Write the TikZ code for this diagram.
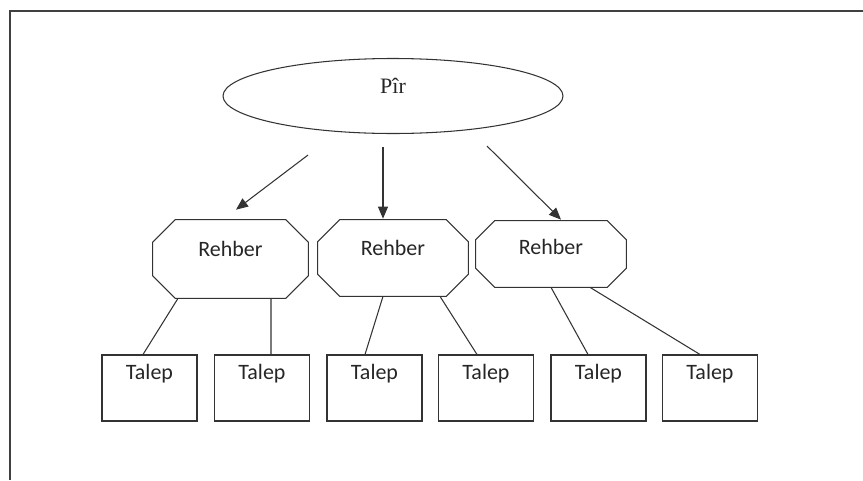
\documentclass[tikz,border=0pt]{standalone}
\usepackage{fontspec}
\setmainfont{Liberation Serif}
\newfontfamily\boxfont{Carlito}
\usetikzlibrary{shapes.geometric,arrows.meta}

% chamfered outline round a node: #1 node name, #2 size of the cut
\newcommand{\chamferbox}[2]{%
	\draw[line] ([xshift=#2]#1.north west) -- ([xshift=-#2]#1.north east)
		-- ([yshift=-#2]#1.north east) -- ([yshift=#2]#1.south east)
		-- ([xshift=-#2]#1.south east) -- ([xshift=#2]#1.south west)
		-- ([yshift=#2]#1.south west) -- ([yshift=-#2]#1.north west) -- cycle;}

\tikzset{
	line/.style={draw=black!80, line width=0.6pt},
	pirnode/.style={ellipse, line, minimum width=6.8cm, minimum height=1.5cm, inner sep=0pt,
		font=\fontsize{12.5}{15}\selectfont, text=black!85, text height=10pt, text depth=13.1pt},
	rehbernode/.style={rectangle, minimum width=3cm, minimum height=1.52cm, inner sep=0pt,
		font=\boxfont\fontsize{12.5}{15}\selectfont, text=black!85, text height=10pt, text depth=12.8pt},
	talepnode/.style={rectangle, line, minimum width=1.9cm, minimum height=1.32cm, inner sep=0pt,
		font=\boxfont\fontsize{12.5}{15}\selectfont, text=black!85, text height=10pt, text depth=20.2pt},
	>={Triangle[length=0.24cm, width=0.2cm]}
}

\begin{document}
\begin{tikzpicture}[scale=1.0]
			\useasboundingbox (0,0) rectangle (17.26,9.6);
			\draw[black!75, line width=0.9pt] (0.2,0) -- (0.2,9.38) -- (17.26,9.38);
			
			\node[pirnode] (pir) at (7.86,7.68) {Pîr};
			
			\node[rehbernode, minimum width=3.1cm, minimum height=1.56cm] (r1) at (4.61,4.42) {Rehber};
			\node[rehbernode] (r2) at (7.86,4.44) {Rehber};
			\node[rehbernode, minimum height=1.32cm, text depth=9.4pt] (r3) at (11.02,4.52) {Rehber};
			\chamferbox{r1}{0.45cm}
			\chamferbox{r2}{0.44cm}
			\chamferbox{r3}{0.38cm}
			
			\node[talepnode] (t1) at (2.99,1.84) {Talep};
			\node[talepnode] (t2) at (5.24,1.84) {Talep};
			\node[talepnode] (t3) at (7.49,1.84) {Talep};
			\node[talepnode] (t4) at (9.72,1.84) {Talep};
			\node[talepnode] (t5) at (11.97,1.84) {Talep};
			\node[talepnode] (t6) at (14.20,1.84) {Talep};
			
			\draw[->][line] ([shift={(-1.7,-0.42)}]pir.south) -- ([shift={(0.11,0.2)}]r1.north);
			\draw[->][line] ([shift={(-0.2,-0.26)}]pir.south) -- ([shift={(-0.2,0.02)}]r2.north);
			\draw[->][line] ([shift={(1.88,-0.24)}]pir.south) -- ([shift={(0.2,0.02)}]r3.north);
			
			\draw[line] ([xshift=-1.05cm]r1.south) -- ([xshift=-0.13cm]t1.north);
			\draw[line] ([xshift=0.81cm]r1.south) -- ([xshift=0.18cm]t2.north);
			\draw[line] ([xshift=-0.2cm]r2.south) -- ([xshift=-0.19cm]t3.north);
			\draw[line] ([xshift=0.94cm]r2.south) -- ([xshift=-0.18cm]t4.north);
			\draw[line] (r3.south) -- ([xshift=-0.21cm]t5.north);
			\draw[line] ([xshift=0.78cm]r3.south) -- ([xshift=-0.2cm]t6.north);
		\end{tikzpicture}
\end{document}
